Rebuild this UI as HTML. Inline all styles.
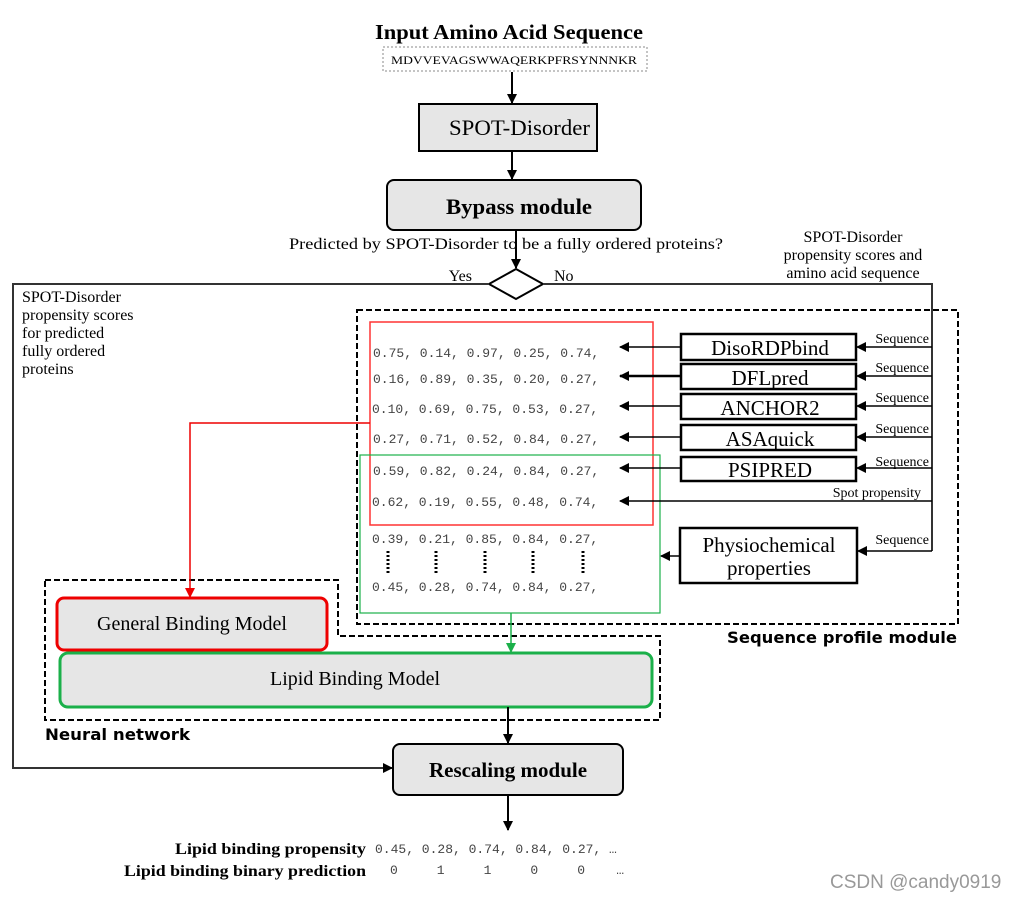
<!DOCTYPE html>
<html><head><meta charset="utf-8"><style>
html,body{margin:0;padding:0;background:#fff;}
svg{display:block;}
.s{font-family:"Liberation Serif",serif;}
.m{font-family:"Liberation Mono",monospace;font-size:13px;fill:#444;}
</style></head><body>
<svg width="1016" height="902" viewBox="0 0 1016 902" xmlns="http://www.w3.org/2000/svg">
<defs>
<marker id="a" markerWidth="10" markerHeight="10" refX="9" refY="5" orient="auto" markerUnits="userSpaceOnUse"><path d="M0,0 L10,5 L0,10 z" fill="#000"/></marker>
<marker id="r" markerWidth="10" markerHeight="10" refX="9" refY="5" orient="auto" markerUnits="userSpaceOnUse"><path d="M0,0 L10,5 L0,10 z" fill="#e00"/></marker>
<marker id="g" markerWidth="10" markerHeight="10" refX="9" refY="5" orient="auto" markerUnits="userSpaceOnUse"><path d="M0,0 L10,5 L0,10 z" fill="#1bb04a"/></marker>
</defs>
<g class="s">
<text x="375" y="39" font-size="21" font-weight="bold" textLength="268" lengthAdjust="spacingAndGlyphs">Input Amino Acid Sequence</text>
<rect x="383" y="47" width="264" height="24" fill="#fff" stroke="#888" stroke-dasharray="2,2"/>
<text x="391" y="64" font-size="12" textLength="246" lengthAdjust="spacingAndGlyphs">MDVVEVAGSWWAQERKPFRSYNNNKR</text>
<line x1="512" y1="72" x2="512" y2="103" stroke="#000" stroke-width="2" marker-end="url(#a)"/>
<rect x="419" y="104" width="178" height="47" fill="#e6e6e6" stroke="#000" stroke-width="2"/>
<text x="449" y="135" font-size="22" textLength="141" lengthAdjust="spacingAndGlyphs">SPOT-Disorder</text>
<line x1="512" y1="151" x2="512" y2="179" stroke="#000" stroke-width="2" marker-end="url(#a)"/>
<rect x="387" y="180" width="254" height="50" rx="7" fill="#e6e6e6" stroke="#000" stroke-width="2"/>
<text x="446" y="214" font-size="22" font-weight="bold" textLength="146" lengthAdjust="spacingAndGlyphs">Bypass module</text>
<text x="289" y="249" font-size="16" textLength="434" lengthAdjust="spacingAndGlyphs">Predicted by SPOT-Disorder to be a fully ordered proteins?</text>
<line x1="516" y1="230" x2="516" y2="268" stroke="#000" stroke-width="2" marker-end="url(#a)"/>
<path d="M516,269 L543,284 L516,299 L489,284 z" fill="#fff" stroke="#000" stroke-width="2"/>
<text x="472" y="281" text-anchor="end" font-size="16">Yes</text>
<text x="554" y="281" font-size="16">No</text>
<text x="853" y="242" text-anchor="middle" font-size="16">SPOT-Disorder</text>
<text x="853" y="260" text-anchor="middle" font-size="16">propensity scores and</text>
<text x="853" y="278" text-anchor="middle" font-size="16">amino acid sequence</text>
<polyline points="489,284 13,284 13,768 392,768" fill="none" stroke="#333" stroke-width="2" marker-end="url(#a)"/>
<polyline points="543,284 932,284 932,551" fill="none" stroke="#333" stroke-width="2"/>
<text x="22" y="302" font-size="16">SPOT-Disorder</text>
<text x="22" y="320" font-size="16">propensity scores</text>
<text x="22" y="338" font-size="16">for predicted</text>
<text x="22" y="356" font-size="16">fully ordered</text>
<text x="22" y="374" font-size="16">proteins</text>
<rect x="357" y="310" width="601" height="314" fill="none" stroke="#000" stroke-width="2" stroke-dasharray="6,3"/>
<text x="957" y="643" text-anchor="end" font-family="DejaVu Sans,sans-serif" font-size="16" font-weight="bold" textLength="230" lengthAdjust="spacingAndGlyphs">Sequence profile module</text>
<rect x="370" y="322" width="283" height="203" fill="none" stroke="#f33" stroke-width="1.5"/>
<rect x="360" y="455" width="300" height="158" fill="none" stroke="#1bb04a" stroke-width="1.2"/>
</g>
<g class="m">
<text x="373" y="357">0.75, 0.14, 0.97, 0.25, 0.74,</text>
<text x="373" y="383">0.16, 0.89, 0.35, 0.20, 0.27,</text>
<text x="372" y="413">0.10, 0.69, 0.75, 0.53, 0.27,</text>
<text x="373" y="443">0.27, 0.71, 0.52, 0.84, 0.27,</text>
<text x="373" y="475">0.59, 0.82, 0.24, 0.84, 0.27,</text>
<text x="372" y="506">0.62, 0.19, 0.55, 0.48, 0.74,</text>
<text x="372" y="543">0.39, 0.21, 0.85, 0.84, 0.27,</text>
<text x="372" y="591">0.45, 0.28, 0.74, 0.84, 0.27,</text>
</g>
<g stroke="#000" stroke-width="3" stroke-dasharray="2,2">
<line x1="388" y1="551" x2="388" y2="575"/><line x1="436" y1="551" x2="436" y2="575"/><line x1="485" y1="551" x2="485" y2="575"/><line x1="533" y1="551" x2="533" y2="575"/><line x1="583" y1="551" x2="583" y2="575"/>
</g>
<g class="s" stroke-width="1.5">
<g fill="#fff" stroke="#000" stroke-width="2.5">
<rect x="681" y="334" width="175" height="26"/><rect x="681" y="364" width="175" height="25"/><rect x="681" y="394" width="175" height="25"/><rect x="681" y="425" width="175" height="25"/><rect x="681" y="457" width="175" height="24"/><rect x="680" y="528" width="177" height="55"/>
</g>
<g font-size="21" text-anchor="middle">
<text x="770" y="355">DisoRDPbind</text><text x="770" y="385">DFLpred</text><text x="770" y="415">ANCHOR2</text><text x="770" y="446">ASAquick</text><text x="770" y="477">PSIPRED</text>
<text x="769" y="552">Physiochemical</text><text x="769" y="575">properties</text>
</g>
<g stroke="#000" fill="none">
<line x1="681" y1="347" x2="620" y2="347" marker-end="url(#a)"/>
<line x1="681" y1="376" x2="620" y2="376" stroke-width="2.5" marker-end="url(#a)"/>
<line x1="681" y1="406" x2="620" y2="406" marker-end="url(#a)"/>
<line x1="681" y1="437" x2="620" y2="437" marker-end="url(#a)"/>
<line x1="681" y1="468" x2="620" y2="468" marker-end="url(#a)"/>
<line x1="932" y1="501" x2="620" y2="501" marker-end="url(#a)"/>
<line x1="680" y1="556" x2="661" y2="556" marker-end="url(#a)"/>
<line x1="932" y1="347" x2="857" y2="347" marker-end="url(#a)"/>
<line x1="932" y1="376" x2="857" y2="376" marker-end="url(#a)"/>
<line x1="932" y1="406" x2="857" y2="406" marker-end="url(#a)"/>
<line x1="932" y1="437" x2="857" y2="437" marker-end="url(#a)"/>
<line x1="932" y1="468" x2="857" y2="468" marker-end="url(#a)"/>
<line x1="932" y1="551" x2="858" y2="551" marker-end="url(#a)"/>
</g>
<g font-size="14" text-anchor="end">
<text x="929" y="343">Sequence</text><text x="929" y="372">Sequence</text><text x="929" y="402">Sequence</text><text x="929" y="433">Sequence</text><text x="929" y="466">Sequence</text><text x="921" y="497">Spot propensity</text><text x="929" y="544">Sequence</text>
</g>
<path d="M45,580 H338 V636 H660 V720 H45 Z" fill="none" stroke="#000" stroke-width="2" stroke-dasharray="6,3"/>
<polyline points="370,423 190,423 190,597" fill="none" stroke="#e00" stroke-width="1.5" marker-end="url(#r)"/>
<line x1="511" y1="613" x2="511" y2="652" stroke="#1bb04a" stroke-width="1.5" marker-end="url(#g)"/>
<rect x="57" y="598" width="270" height="52" rx="7" fill="#e6e6e6" stroke="#e00" stroke-width="3"/>
<text x="192" y="630" text-anchor="middle" font-size="20">General Binding Model</text>
<rect x="60" y="653" width="592" height="54" rx="8" fill="#e6e6e6" stroke="#1bb04a" stroke-width="3"/>
<text x="355" y="685" text-anchor="middle" font-size="20">Lipid Binding Model</text>
<text x="45" y="740" font-family="DejaVu Sans,sans-serif" font-size="16" font-weight="bold" textLength="145" lengthAdjust="spacingAndGlyphs">Neural network</text>
<line x1="508" y1="707" x2="508" y2="743" stroke="#000" stroke-width="2" marker-end="url(#a)"/>
<rect x="393" y="744" width="230" height="51" rx="7" fill="#e6e6e6" stroke="#000" stroke-width="2"/>
<text x="508" y="777" text-anchor="middle" font-size="21" font-weight="bold">Rescaling module</text>
<line x1="508" y1="795" x2="508" y2="830" stroke="#000" stroke-width="2" marker-end="url(#a)"/>
<text x="175" y="854" font-size="16" font-weight="bold" textLength="191" lengthAdjust="spacingAndGlyphs">Lipid binding propensity</text>
<text x="124" y="876" font-size="16" font-weight="bold" textLength="242" lengthAdjust="spacingAndGlyphs">Lipid binding binary prediction</text>
</g>
<text x="375" y="853" class="m">0.45, 0.28, 0.74, 0.84, 0.27, …</text>
<text x="390" y="874" class="m" xml:space="preserve">0     1     1     0     0    …</text>
<text x="830" y="888" font-family="Liberation Sans,sans-serif" font-size="19" fill="#999">CSDN @candy0919</text>
</svg>
</body></html>
